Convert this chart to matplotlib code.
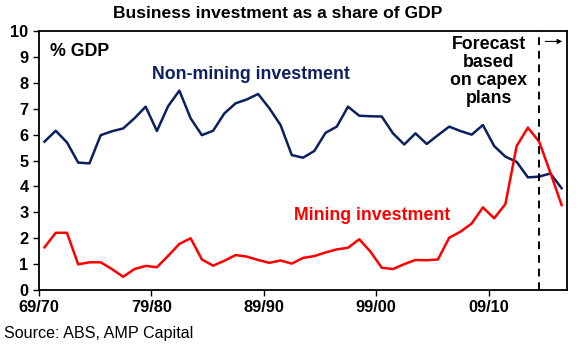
import numpy as np
import matplotlib
matplotlib.use("Agg")
import matplotlib.pyplot as plt

plt.rcParams['font.family'] = ['Liberation Sans', 'DejaVu Sans']

# financial years 69/70 .. 15/16, last few years are capex-plan forecasts
years = ['69/70', '70/71', '71/72', '72/73', '73/74', '74/75', '75/76', '76/77',
         '77/78', '78/79', '79/80', '80/81', '81/82', '82/83', '83/84', '84/85',
         '85/86', '86/87', '87/88', '88/89', '89/90', '90/91', '91/92', '92/93',
         '93/94', '94/95', '95/96', '96/97', '97/98', '98/99', '99/00', '00/01',
         '01/02', '02/03', '03/04', '04/05', '05/06', '06/07', '07/08', '08/09',
         '09/10', '10/11', '11/12', '12/13', '13/14', '14/15', '15/16']
non_mining = [5.73, 6.15, 5.70, 4.92, 4.89, 5.98, 6.13, 6.24, 6.63, 7.08,
              6.14, 7.10, 7.70, 6.63, 5.98, 6.15, 6.82, 7.21, 7.36, 7.57,
              7.02, 6.37, 5.21, 5.11, 5.37, 6.07, 6.31, 7.08, 6.73, 6.71,
              6.70, 6.05, 5.62, 6.05, 5.64, 5.98, 6.31, 6.14, 6.00, 6.37,
              5.56, 5.15, 4.95, 4.35, 4.38, 4.50, 3.93]
mining = [1.65, 2.21, 2.21, 0.99, 1.07, 1.07, 0.81, 0.51, 0.81, 0.93,
          0.88, 1.32, 1.78, 2.00, 1.18, 0.94, 1.13, 1.35, 1.29, 1.16,
          1.05, 1.14, 1.02, 1.24, 1.31, 1.45, 1.57, 1.63, 1.96, 1.48,
          0.86, 0.81, 1.00, 1.16, 1.15, 1.18, 2.02, 2.25, 2.57, 3.19,
          2.77, 3.32, 5.56, 6.27, 5.73, 4.53, 3.28]
tick_years = ['69/70', '79/80', '89/90', '99/00', '09/10']
forecast_start = '13/14'

navy = '#0c1f5e'
red = '#ff0000'

x = np.arange(len(years)) + 0.5

fig = plt.figure(figsize=(5.8, 3.49), dpi=100)
ax = fig.add_axes([0.067, 0.169, 0.911, 0.742])

ax.plot(x, non_mining, color=navy, lw=1.8)
ax.plot(x, mining, color=red, lw=1.8)

xf = years.index(forecast_start) + 0.5
ax.axvline(xf, color='black', lw=1.4, ls=(0, (4, 3)))
ax.annotate('', xy=(46.8, 9.6), xytext=(44.8, 9.6),
            arrowprops=dict(arrowstyle='-|>', color='black', lw=0.8,
                            mutation_scale=7))

ax.set_xlim(0, len(years))
ax.set_ylim(0, 10)
ax.set_xticks([years.index(t) for t in tick_years])
ax.set_xticklabels(tick_years)
ax.set_yticks(range(0, 11))
ax.tick_params(axis='both', direction='out', length=4, width=1, labelsize=11.8)
for lab in ax.get_xticklabels() + ax.get_yticklabels():
    lab.set_fontweight('bold')
for s in ax.spines.values():
    s.set_linewidth(1.3)

ax.text(1.0, 9.23, '% GDP', fontsize=12.8, fontweight='bold', va='center')
ax.text(10.1, 8.34, 'Non-mining investment', fontsize=12.8, fontweight='bold',
        color=navy, va='center')
ax.text(22.7, 2.86, 'Mining investment', fontsize=12.8, fontweight='bold',
        color=red, va='center')
ax.text(40.0, 8.44, 'Forecast\nbased\non capex\nplans', fontsize=12.8,
        fontweight='bold', ha='center', va='center', linespacing=1.1)

fig.text(0.479, 0.962, 'Business investment as a share of GDP', fontsize=12.6,
         fontweight='bold', ha='center', va='center')
fig.text(0.007, 0.045, 'Source: ABS, AMP Capital', fontsize=11.6, va='center')

fig.savefig('out.png', dpi=100)
